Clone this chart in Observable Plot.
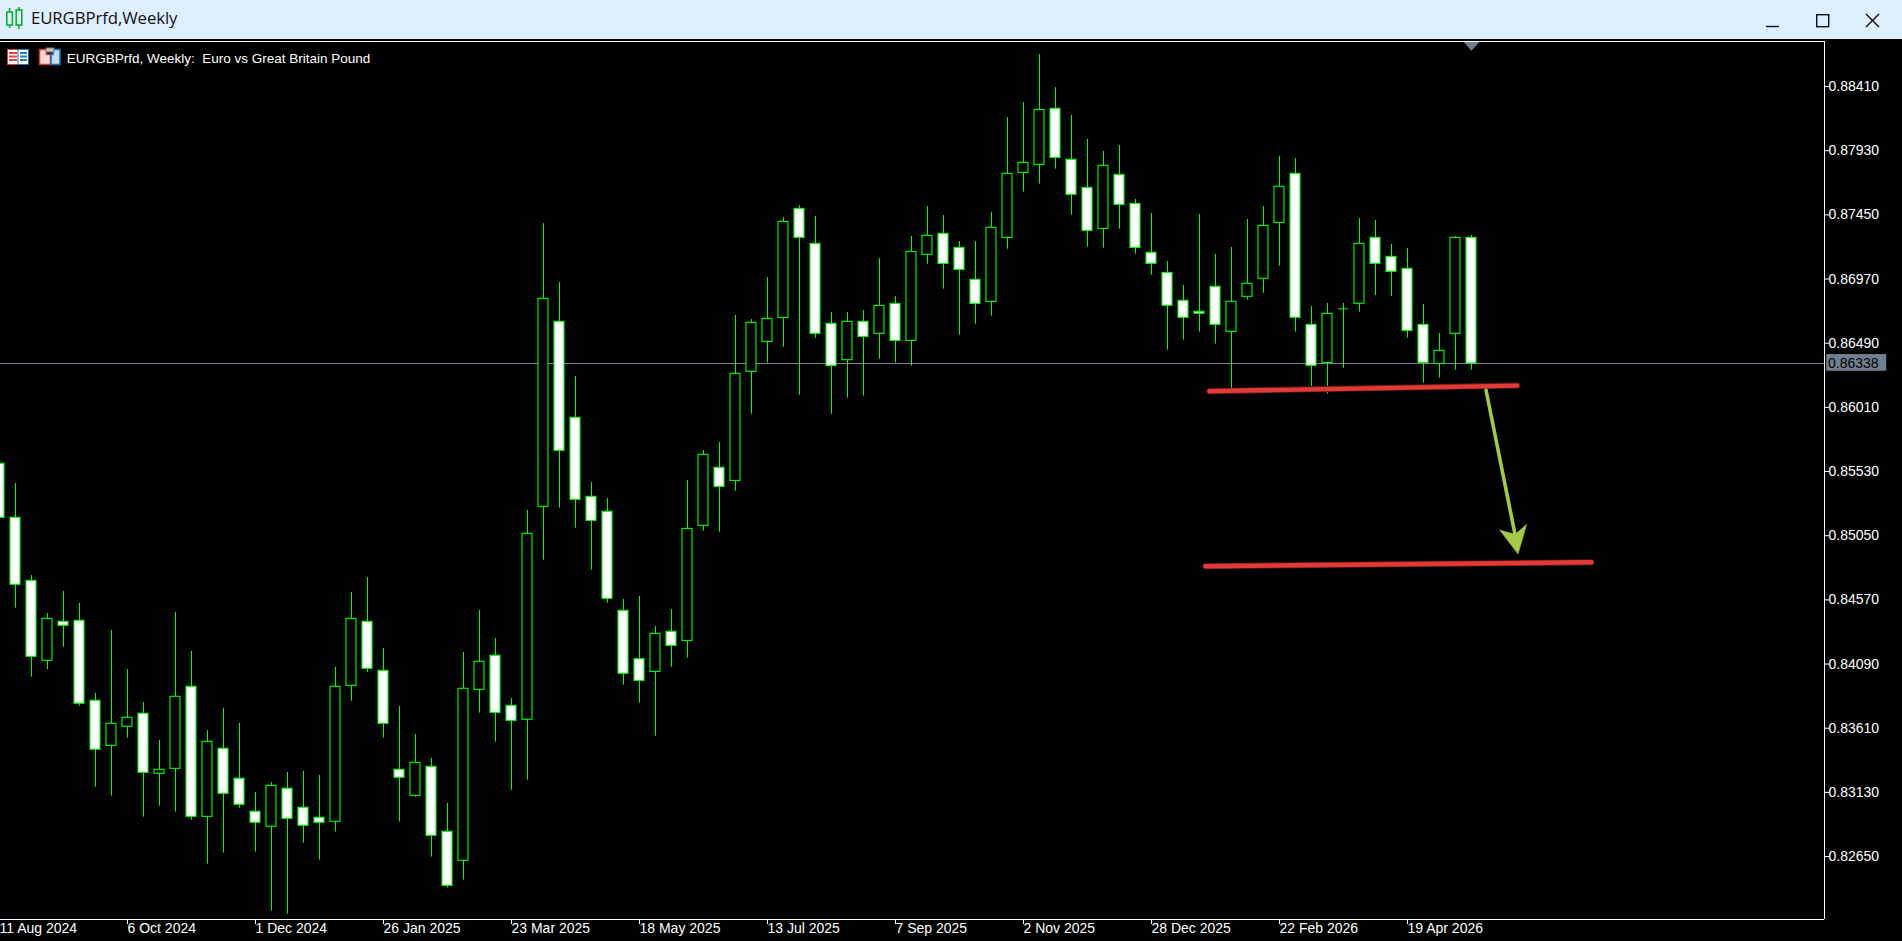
<!DOCTYPE html>
<html><head><meta charset="utf-8">
<script src="https://cdn.jsdelivr.net/npm/d3@7"></script>
<script src="https://cdn.jsdelivr.net/npm/@observablehq/plot@0.6"></script>
<style>
html,body{margin:0;padding:0;background:#000;overflow:hidden;width:1902px;height:941px}
#bar{position:relative;height:39px;background:#deefff;color:#111;font:16.8px "Open Sans",sans-serif}
#bar span{position:absolute;left:31px;top:7px;line-height:22px;letter-spacing:-.1px}
#bar svg{position:absolute;left:0;top:0}
#wrap{position:relative;height:902px}
#wrap svg.plot{display:block}
#ico{position:absolute;left:0;top:0}
</style></head><body>
<div id="bar"><span>EURGBPrfd,Weekly</span>
<svg width="1902" height="39" fill="none">
<g stroke="#0ab02a" stroke-width="1.6"><rect x="6.8" y="12" width="5.6" height="13"/><line x1="9.6" y1="8" x2="9.6" y2="12"/><line x1="9.6" y1="25" x2="9.6" y2="28"/><rect x="16.2" y="10" width="5.6" height="15"/><line x1="19" y1="7" x2="19" y2="10"/><line x1="19" y1="25" x2="19" y2="29"/></g>
<g stroke="#111" stroke-width="1.4"><line x1="1766" y1="26.5" x2="1779" y2="26.5"/><rect x="1816.7" y="14.7" width="12" height="12"/><line x1="1866" y1="14" x2="1879" y2="27"/><line x1="1879" y1="14" x2="1866" y2="27"/></g>
</svg></div>
<div id="wrap"></div>
<script>
const tickIndex = [0,8,16,24,32,40,48,56,64,72,80,88];
const tickLabels = ["11 Aug 2024","6 Oct 2024","1 Dec 2024","26 Jan 2025","23 Mar 2025","18 May 2025","13 Jul 2025","7 Sep 2025","2 Nov 2025","28 Dec 2025","22 Feb 2026","19 Apr 2026"];
const priceTicks = [0.8841,0.8793,0.8745,0.8697,0.8649,0.8601,0.8553,0.8505,0.8457,0.8409,0.8361,0.8313,0.8265];
const lastPrice = 0.86338;
const open = [.85588,.85184,.84712,.84114,.84406,.84413,.83815,.83478,.83621,.83718,.83269,.83306,.8392,.82947,.83456,.83232,.82985,.82873,.83157,.83015,.8294,.8291,.83927,.84406,.84039,.83299,.83104,.83321,.82835,.82618,.83897,.84152,.83777,.83673,.85266,.8665,.85932,.85341,.85229,.84488,.84126,.84031,.84331,.84263,.85124,.85558,.8546,.86276,.865,.86679,.87495,.87233,.86635,.86363,.8665,.8656,.86784,.86507,.87151,.87308,.87203,.86964,.86799,.87278,.87764,.87824,.88243,.87862,.87652,.87345,.87749,.87532,.87166,.87016,.86807,.86725,.86912,.86575,.86837,.86972,.8739,.87757,.86627,.86343,.86747,.86785,.87278,.87136,.87046,.86627,.86336,.8656,.87278];
const close = [.85184,.84683,.84144,.84428,.84376,.83793,.83449,.83643,.83688,.83276,.83299,.83845,.82947,.83508,.83119,.83037,.82903,.83179,.82932,.8288,.82903,.8392,.84428,.84054,.83643,.83239,.83351,.82805,.82431,.83905,.84107,.83725,.83665,.85064,.86822,.85685,.85318,.85161,.84578,.84017,.83964,.84316,.84226,.85101,.85655,.85415,.86261,.86642,.86672,.87397,.87278,.8656,.8632,.8665,.86537,.86769,.86507,.87173,.87293,.87083,.87038,.86784,.87353,.87757,.87839,.88235,.87876,.876,.8733,.87817,.87525,.87203,.87084,.8677,.8668,.8671,.86627,.868,.86934,.87368,.8766,.8668,.86321,.8671,.86747,.87233,.87084,.87024,.86582,.86343,.86433,.87278,.86338];
const high = [.8564,.8544,.84752,.84468,.84633,.84543,.8387,.84341,.84049,.83802,.83518,.84476,.84184,.83593,.83758,.83645,.83129,.83204,.83279,.83286,.83257,.84064,.84625,.84737,.84206,.83773,.83563,.83384,.83047,.84176,.84491,.84281,.83832,.85239,.87385,.86944,.86241,.85448,.85328,.84573,.84595,.84371,.84498,.85463,.85687,.85747,.86697,.86667,.86981,.8743,.8752,.87437,.86719,.86719,.86734,.87123,.86839,.87288,.87512,.87445,.8725,.8725,.87467,.88178,.8829,.88649,.88402,.88193,.88014,.87924,.87969,.87565,.8746,.87101,.86922,.87453,.87154,.87206,.87415,.87512,.87886,.87871,.86765,.86787,.86787,.87423,.87408,.87228,.87198,.86779,.86563,.87288,.87295];
const low = [.851,.84508,.83992,.84049,.84216,.83775,.83169,.83102,.83536,.82945,.83027,.82982,.82922,.82593,.82676,.83012,.82683,.82242,.82219,.8275,.82623,.82833,.83812,.84029,.83536,.82908,.83094,.82646,.82414,.82474,.83723,.83506,.83146,.83221,.84867,.85256,.85106,.84792,.84545,.83932,.83797,.8355,.84066,.84134,.85084,.85076,.85383,.85959,.86343,.8646,.86101,.86527,.85959,.86079,.86094,.8637,.86343,.86318,.87081,.86894,.8655,.86632,.86692,.87193,.8762,.8768,.87792,.87448,.87208,.87201,.87343,.87156,.86999,.86438,.86513,.86573,.86483,.86136,.86812,.86864,.87066,.86573,.86166,.86109,.86303,.86722,.86847,.86839,.86528,.86191,.86229,.86288,.86288];
const upperLine = {x:[75.62,94.85], y:[.86131,.86173]};
const lowerLine = {x:[75.37,99.5], y:[.84822,.84851]};
const arrowShaft = {x:[92.91,94.72], y:[.86138,.8506]};
const arrowHead = {x:[93.76,94.91,95.45,94.72,93.76], y:[.85092,.84913,.85135,.8506,.85092]};
const marker = {x:[91.5,92.5,92,91.5], y:[.88747,.88747,.88679,.88747]};
const chartCaption = "EURGBPrfd, Weekly:  Euro vs Great Britain Pound";

const bars = open.map((o,i)=>({i,o,c:close[i],h:high[i],l:low[i]}));
const bodies = bars.filter(d=>d.o!==d.c), dojis = bars.filter(d=>d.o===d.c);
const pts = s => s.x.map((x,k)=>({x,y:s.y[k]}));
const G="#00ff00", R="#e53935", R2="#5e1c1a", A="#a6c945", S="#708090";
const hw=.3125;

const chart = Plot.plot({
  width:1902, height:902, marginLeft:0, marginRight:78, marginTop:2, marginBottom:22,
  x:{type:"linear", domain:[.0625,114.0625], range:[0,1824]},
  y:{type:"linear", domain:[.82179,.88747]},
  style:{background:"#000",color:"#fff",fontFamily:"'Liberation Sans',sans-serif",fontSize:"14px"},
  marks:[
    Plot.ruleY([lastPrice],{x1:.0625,x2:114.0625,stroke:"#7b8a9a",strokeWidth:1}),
    Plot.ruleX(bars,{x:"i",y1:"l",y2:"h",stroke:G,strokeWidth:1}),
    Plot.rect(bodies,{x1:d=>d.i-hw,x2:d=>d.i+hw,y1:"o",y2:"c",fill:d=>d.c<d.o?"#fff":"#000",stroke:G,strokeWidth:1.1}),
    Plot.ruleY(dojis,{x1:d=>d.i-hw,x2:d=>d.i+hw,y:"c",stroke:G,strokeWidth:1}),
    Plot.line(pts(upperLine),{x:"x",y:"y",stroke:R2,strokeWidth:6,strokeLinecap:"round"}),
    Plot.line(pts(lowerLine),{x:"x",y:"y",stroke:R2,strokeWidth:6,strokeLinecap:"round"}),
    Plot.line(pts(upperLine),{x:"x",y:"y",stroke:R,strokeWidth:4.4,strokeLinecap:"round"}),
    Plot.line(pts(lowerLine),{x:"x",y:"y",stroke:R,strokeWidth:4.4,strokeLinecap:"round"}),
    Plot.line(pts(arrowShaft),{x:"x",y:"y",stroke:A,strokeWidth:3.6}),
    Plot.line(pts(arrowHead),{x:"x",y:"y",stroke:A,strokeWidth:.5,fill:A}),
    Plot.line(pts(marker),{x:"x",y:"y",stroke:S,strokeWidth:.5,fill:S}),
    Plot.ruleY([.88747,.82179],{x1:.0625,x2:114.0625,stroke:"#fff",strokeWidth:1}),
    Plot.ruleX([114.0625],{y1:.82179,y2:.88747,stroke:"#fff",strokeWidth:1}),
    Plot.axisY({anchor:"right",ticks:priceTicks,tickSize:4,tickPadding:0,tickFormat:d3.format(".5f"),label:null,stroke:"#fff",fill:"#fff"}),
    Plot.axisX({anchor:"bottom",ticks:tickIndex,tickSize:5,tickPadding:-1,tickFormat:i=>tickLabels[tickIndex.indexOf(i)],label:null,textAnchor:"start",stroke:"#fff",fill:"#fff"}),
    Plot.rect([lastPrice],{x1:114.2,x2:117.95,y1:.8628,y2:.86405,fill:S}),
    Plot.text([lastPrice],{x:114.28,y:d=>d,text:d=>d3.format(".5f")(d),textAnchor:"start",fill:"#000",fontSize:14}),
    Plot.text([chartCaption],{x:4.2,y:.88747,dy:17,text:d=>d,textAnchor:"start",fill:"#fff",fontSize:13.5})
  ]
});
document.getElementById("wrap").appendChild(chart);
document.getElementById("wrap").insertAdjacentHTML("beforeend",`<svg id="ico" width="70" height="40">
<g transform="translate(0,-39)">
<rect x="7.5" y="49.5" width="21" height="15" fill="#fff" stroke="#d63a3a"/><rect x="18" y="49.5" width="10.5" height="15" fill="#fff" stroke="#1f6fb0"/>
<path d="M9 53h8M9 56.5h8M9 60h8" stroke="#e8403c" stroke-width="2"/><path d="M20 53h7M20 56.5h7M20 60h7" stroke="#2a78b8" stroke-width="2"/>
<path d="M39.5 49.5h7v5h4v10h-11z" fill="#ffdcd2" stroke="#cc3a35" stroke-width="1.6"/><path d="M53 49.5h7v15h-9v-10h2z" fill="#bfe0f8" stroke="#1f6fb0" stroke-width="1.6"/><rect x="46" y="48" width="8" height="4" fill="#c8c8c8" stroke="#777"/>
</g></svg>`);
</script>
</body></html>
